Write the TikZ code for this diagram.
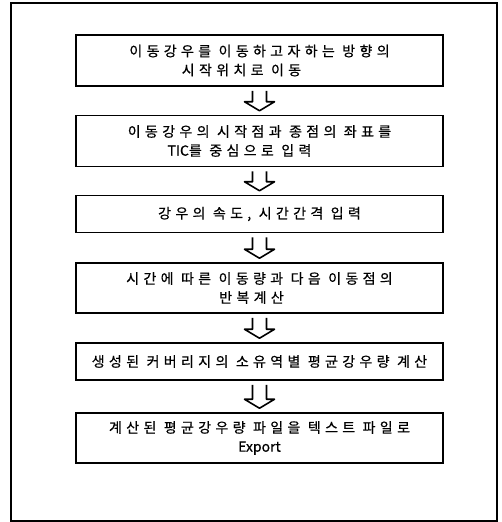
\documentclass[tikz,border=0pt]{standalone}
\usepackage{fontspec}
\usetikzlibrary{calc}
\newfontfamily\kr[LetterSpace=31, FakeBold=0.6]{Noto Sans CJK KR}
\newfontfamily\krl[FakeBold=0.6]{Noto Sans CJK KR}
\newcommand{\lat}[1]{{\krl #1}}
\tikzset{
  frame/.style={draw=black, line width=2pt},
  stepbox/.style={draw=black, line width=1.5pt, minimum width=367pt, inner sep=0pt,
    align=center, font={\fontsize{14}{19}\selectfont\kr}},
  harrow/.style={draw=black, line width=1.6pt, line join=round}
}
\newcommand{\hollowarrow}[2]{%
  \draw[harrow] ($(#1.south)+(-7,4)$) -- ($(#2.north)+(-7,-13)$) -- ($(#2.north)+(-15,-13)$)
    -- ($(#2.north)+(0,-4)$) -- ($(#2.north)+(15,-13)$) -- ($(#2.north)+(7,-13)$)
    -- ($(#1.south)+(7,4)$);}
\begin{document}
\begin{tikzpicture}[x=1pt, y=-1pt]
\useasboundingbox (0,0) rectangle (501,522);
\fill[white] (0,0) rectangle (501,522);
\draw[frame] (11,3) rectangle (497,521);
\node[stepbox, minimum height=51pt] (b1) at (259.5,60.5)
  {이동강우를 이동하고자하는 방향의\\시작위치로 이동\hspace*{36pt}};
\node[stepbox, minimum height=51pt] (b2) at (259.5,141)
  {이동강우의 시작점과 종점의 좌표를\\\lat{TIC}를 중심으로 입력\hspace*{40pt}};
\node[stepbox, minimum height=37pt] (b3) at (259.5,214)
  {강우의 속도, 시간간격 입력};
\node[stepbox, minimum height=50pt] (b4) at (259.5,288)
  {시간에 따른 이동량과 다음 이동점의\\반복계산\hspace*{16pt}};
\node[stepbox, minimum height=37pt] (b5) at (259.5,361.5)
  {생성된 커버리지의 소유역별 평균강우량 계산};
\node[stepbox, minimum height=50pt] (b6) at (259.5,438)
  {계산된 평균강우량 파일을 텍스트 파일로\\\lat{Export}};
\hollowarrow{b1}{b2}
\hollowarrow{b2}{b3}
\hollowarrow{b3}{b4}
\hollowarrow{b4}{b5}
\hollowarrow{b5}{b6}
\end{tikzpicture}
\end{document}
